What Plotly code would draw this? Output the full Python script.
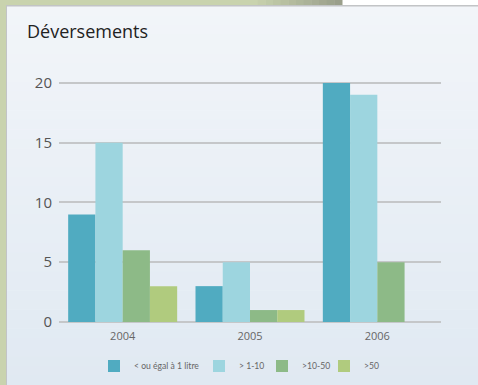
import plotly.graph_objects as go

years = ["2004", "2005", "2006"]
series_names = ["< ou égal à 1 litre", "> 1-10", ">10-50", ">50"]
v_le1 = [9, 3, 20]
v_1_10 = [15, 5, 19]
v_10_50 = [6, 1, 5]
v_gt50 = [3, 1, None]
colors = ["#50abc1", "#9dd5df", "#8dba87", "#b0cb7e"]
title_text = "Déversements"

W, H = 478, 385
L, R, T, B = 59, 37, 59, 63
pw, ph = W - L - R, H - T - B

def px(x):
    return (x - L) / pw

def py(y):
    return (H - B - y) / ph

legend_ids = ["legend", "legend2", "legend3", "legend4"]
legend_marker_left = [113, 218, 281, 343]

fig = go.Figure()
for name, vals, c, lid in zip(series_names, [v_le1, v_1_10, v_10_50, v_gt50], colors, legend_ids):
    fig.add_trace(go.Bar(x=years, y=vals, name=name, legend=lid,
                         marker=dict(color=c, line=dict(width=0))))

shapes = []
# panel gradient
n = 40
top_c = (0xf2, 0xf5, 0xf9)
bot_c = (0xe0, 0xe9, 0xf2)
y0, y1 = 6, H
for i in range(n):
    t = (i + 0.5) / n
    c = tuple(round(a + (b - a) * t) for a, b in zip(top_c, bot_c))
    ya = y0 + (y1 - y0) * i / n
    yb = y0 + (y1 - y0) * (i + 1) / n + 0.6
    shapes.append(dict(type="rect", xref="paper", yref="paper", layer="below",
                       x0=px(7), x1=px(W), y0=py(yb), y1=py(ya),
                       fillcolor="rgb(%d,%d,%d)" % c, line=dict(width=0)))
# left olive strip
shapes.append(dict(type="rect", xref="paper", yref="paper", layer="below",
                   x0=px(0), x1=px(6), y0=py(H), y1=py(0),
                   fillcolor="#c9d3ae", line=dict(width=0)))
# top olive strip with darkening end
shapes.append(dict(type="rect", xref="paper", yref="paper", layer="below",
                   x0=px(0), x1=px(250), y0=py(5), y1=py(0),
                   fillcolor="#c9d3ae", line=dict(width=0)))
m = 12
for i in range(m):
    t = i / (m - 1)
    a = (0xc9, 0xd3, 0xae)
    b = (0x9a, 0x9f, 0x8b)
    c = tuple(round(aa + (bb - aa) * t) for aa, bb in zip(a, b))
    xa = 250 + (342 - 250) * i / m
    xb = 250 + (342 - 250) * (i + 1) / m + 0.5
    shapes.append(dict(type="rect", xref="paper", yref="paper", layer="below",
                       x0=px(xa), x1=px(xb), y0=py(5), y1=py(0),
                       fillcolor="rgb(%d,%d,%d)" % c, line=dict(width=0)))
# border lines
shapes.append(dict(type="line", xref="paper", yref="paper", layer="below",
                   x0=px(6), x1=px(W), y0=py(5.8), y1=py(5.8),
                   line=dict(color="#c2c4c6", width=1.5)))
shapes.append(dict(type="line", xref="paper", yref="paper", layer="below",
                   x0=px(6.5), x1=px(6.5), y0=py(H), y1=py(5.8),
                   line=dict(color="#c2c4c6", width=1)))

legend_common = dict(orientation="h", yanchor="middle", y=py(366), xanchor="left",
                     font=dict(size=8.6, color="#666666", family="Lato, sans-serif"),
                     bgcolor="rgba(0,0,0,0)", itemwidth=30, borderwidth=0)
legend_layouts = {}
for lid, ml in zip(legend_ids, legend_marker_left):
    d = dict(legend_common)
    d["x"] = px(ml - 5 - 14)
    legend_layouts[lid] = d

fig.update_layout(
    width=W, height=H,
    margin=dict(l=L, r=R, t=T, b=B, pad=0, autoexpand=False),
    paper_bgcolor="#ffffff",
    plot_bgcolor="rgba(0,0,0,0)",
    barmode="group", bargap=0.144, bargroupgap=0,
    font=dict(family="Open Sans, sans-serif", color="#555555"),
    shapes=shapes,
    showlegend=True,
    annotations=[dict(text=title_text, xref="paper", yref="paper", x=px(25), y=py(31),
                      xanchor="left", yanchor="middle", showarrow=False,
                      font=dict(size=18, color="#222222", family="Open Sans, sans-serif"))],
    **legend_layouts,
)
fig.update_yaxes(range=[0, 22], tickvals=[0, 5, 10, 15, 20], showgrid=True,
                 gridcolor="#c5c7c9", gridwidth=1.6, zeroline=True, zerolinecolor="#c5c7c9",
                 zerolinewidth=2, showline=False, ticks="", ticklabelstandoff=6,
                 tickfont=dict(size=15, color="#555555"))
fig.update_xaxes(showgrid=False, showline=False, ticks="", ticklabelstandoff=6,
                 tickfont=dict(size=11, color="#666666"))

fig.write_html("out.html")
